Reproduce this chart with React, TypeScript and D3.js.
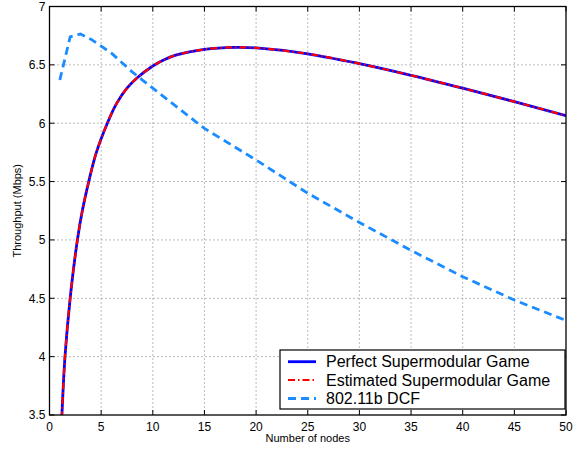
import React from "react";
import * as d3 from "d3";

const perfectX = [1, 1.2, 1.5, 2, 2.7, 3.2, 3.8, 4.5, 5.6, 6.5, 7.5, 8.5, 10, 11, 12.3, 15, 18, 20, 25, 30, 35, 40, 45, 50];
const perfectY = [3.1, 3.5, 4.0, 4.5, 5.0, 5.26, 5.5, 5.74, 6.0, 6.17, 6.3, 6.39, 6.49, 6.54, 6.585, 6.633, 6.65, 6.645, 6.595, 6.51, 6.41, 6.30, 6.185, 6.065];
const estimatedY = perfectY;
const dcfX = [1, 2, 3, 4, 5, 6, 7, 8, 9, 10, 15, 20, 25, 30, 35, 40, 45, 50];
const dcfY = [6.37, 6.74, 6.765, 6.72, 6.66, 6.6, 6.52, 6.44, 6.37, 6.3, 5.955, 5.685, 5.40, 5.15, 4.91, 4.685, 4.485, 4.31];
const xTicks = [0, 5, 10, 15, 20, 25, 30, 35, 40, 45, 50];
const yTicks = [3.5, 4, 4.5, 5, 5.5, 6, 6.5, 7];
const seriesNames = ["Perfect Supermodular Game", "Estimated Supermodular Game", "802.11b DCF"];

const W = 585, H = 449;
const L = 49.5, R = 566, T = 6.5, B = 415;
const FONT = "Liberation Sans, Arial, Helvetica, sans-serif";

export default function App() {
  const x = d3.scaleLinear().domain([0, 50]).range([L, R]);
  const y = d3.scaleLinear().domain([3.5, 7]).range([B, T]);
  const smooth = d3.line<[number, number]>().x(d => x(d[0])).y(d => y(d[1])).curve(d3.curveCatmullRom.alpha(0.5));
  const straight = d3.line<[number, number]>().x(d => x(d[0])).y(d => y(d[1]));
  const perf = perfectX.map((v, i) => [v, perfectY[i]] as [number, number]);
  const est = perfectX.map((v, i) => [v, estimatedY[i]] as [number, number]);
  const dcf = dcfX.map((v, i) => [v, dcfY[i]] as [number, number]);
  const legX = 280, legY = 350, legW = 285, legH = 59;
  const rows = [361.7, 380, 398.5];
  return (
    <svg width={W} height={H} style={{ position: "absolute", left: 0, top: 0, background: "#fff" }} fontFamily={FONT}>
      <defs>
        <clipPath id="plot"><rect x={L} y={T} width={R - L} height={B - T} /></clipPath>
      </defs>
      <rect x={0} y={0} width={W} height={H} fill="#fff" />
      {xTicks.slice(1, -1).map(t => (
        <line key={"gx" + t} x1={x(t)} x2={x(t)} y1={T} y2={B} stroke="#777" strokeWidth={1} strokeDasharray="1,3" />
      ))}
      {yTicks.slice(1, -1).map(t => (
        <line key={"gy" + t} x1={L} x2={R} y1={y(t)} y2={y(t)} stroke="#777" strokeWidth={1} strokeDasharray="1,3" />
      ))}
      {xTicks.map(t => (
        <g key={"tx" + t}>
          <line x1={x(t)} x2={x(t)} y1={B} y2={B - 5} stroke="#000" />
          <line x1={x(t)} x2={x(t)} y1={T} y2={T + 5} stroke="#000" />
          <text x={x(t)} y={430.5} fontSize={12} textAnchor="middle" fill="#000">{t}</text>
        </g>
      ))}
      {yTicks.map(t => (
        <g key={"ty" + t}>
          <line x1={L} x2={L + 5} y1={y(t)} y2={y(t)} stroke="#000" />
          <line x1={R} x2={R - 5} y1={y(t)} y2={y(t)} stroke="#000" />
          <text x={L - 4} y={y(t) + 4.3} fontSize={12} textAnchor="end" fill="#000">{t}</text>
        </g>
      ))}
      <g clipPath="url(#plot)">
        <path d={straight(dcf) || ""} fill="none" stroke="#1a8cff" strokeWidth={2.8} strokeDasharray="8,5" />
        <path d={smooth(perf) || ""} fill="none" stroke="#0000ff" strokeWidth={2.8} />
        <path d={smooth(est) || ""} fill="none" stroke="#ff0000" strokeWidth={2.2} strokeDasharray="7,3,1.5,3" />
      </g>
      <rect x={L} y={T} width={R - L} height={B - T} fill="none" stroke="#000" strokeWidth={1.3} />
      <text x={(L + R) / 2} y={442} fontSize={11} textAnchor="middle" fill="#000">Number of nodes</text>
      <text transform={`translate(21,${(T + B) / 2}) rotate(-90)`} fontSize={11} textAnchor="middle" fill="#000">Throughput (Mbps)</text>
      <rect x={legX} y={legY} width={legW} height={legH} fill="#fff" stroke="#000" strokeWidth={1.2} />
      <line x1={288} x2={316} y1={rows[0]} y2={rows[0]} stroke="#0000ff" strokeWidth={2.8} />
      <line x1={288} x2={316} y1={rows[1]} y2={rows[1]} stroke="#ff0000" strokeWidth={2.2} strokeDasharray="7,3,1.5,3" />
      <line x1={288} x2={316} y1={rows[2]} y2={rows[2]} stroke="#1a8cff" strokeWidth={2.8} strokeDasharray="8,5" />
      {seriesNames.map((n, i) => (
        <text key={n} x={326} y={rows[i] + 5.5} fontSize={16} fill="#000">{n}</text>
      ))}
    </svg>
  );
}
